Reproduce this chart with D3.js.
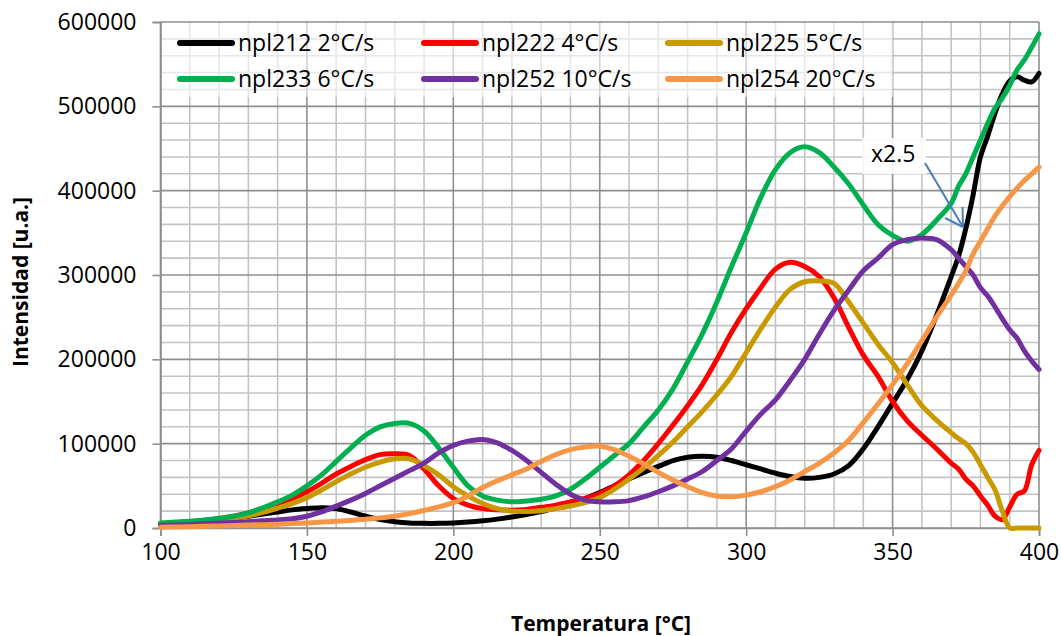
<!DOCTYPE html>
<html><head><meta charset="utf-8">
<script src="https://cdn.jsdelivr.net/npm/d3@7"></script>
<style>
html,body{margin:0;padding:0;background:#fff;}
svg{display:block;font-family:"Open Sans",sans-serif;}
</style></head>
<body><svg id="c" width="1061" height="636"></svg>
<script>
const temps = [100,105,110,115,120,125,130,135,140,145,150,155,160,165,170,175,180,185,190,195,200,205,210,215,220,225,230,235,240,245,250,255,260,265,270,275,280,285,290,295,300,305,310,315,320,325,330,335,340,345,350,355,360,365,370,372.5,375,377.5,380,382.5,385,387.5,390,392.5,395,397.5,400];

const npl212 = [5000,6000,7000,8500,10000,12000,14000,16500,19000,21500,23000,24000,23000,19000,14000,10000,7500,6000,5500,5500,6000,7000,8500,10500,13000,16000,19500,24000,29000,35000,42000,50000,58000,66000,73000,80000,84000,85000,84000,80000,75000,70000,65000,61000,59000,60000,64000,74000,94000,120000,148000,176000,210000,252000,298000,322000,355000,395000,440000,465000,492000,515000,530000,535000,531000,529000,539000];
const npl222 = [5000,6000,7500,9000,11000,14000,18000,23000,29000,35000,43000,53000,64000,73000,81000,87000,88000,86000,70000,50000,35000,27000,23000,21500,21000,22000,24500,27000,31000,35000,41000,50000,63000,80000,100000,122000,145000,170000,200000,232000,260000,285000,307000,315000,310000,298000,273000,238000,205000,180000,150000,127000,110000,94000,77000,70000,58000,50000,38000,27000,14000,10000,25000,40000,44000,75000,92000];
const npl225 = [4000,5000,6000,7500,9000,11500,14500,18500,23500,29000,36000,45000,55000,64000,72000,78000,82000,82000,74000,63000,49000,38000,29000,23000,20000,19500,20500,23000,26000,30000,36000,46000,58000,71000,86000,102000,120000,138000,158000,180000,208000,236000,262000,283000,292000,293000,290000,268000,243000,218000,196000,170000,145000,128000,113000,106000,100000,90000,75000,60000,45000,20000,0,0,0,0,0];
const npl233 = [6000,7000,8000,9500,11500,14000,18000,24000,31000,39000,50000,63000,79000,95000,110000,120000,124000,124000,115000,95000,72000,50000,38000,33000,31000,32000,34000,38000,46000,58000,72000,86000,100000,120000,140000,165000,197000,230000,268000,310000,350000,392000,425000,445000,452000,445000,428000,408000,383000,360000,347000,340000,348000,365000,385000,405000,420000,440000,460000,480000,498000,510000,525000,543000,555000,570000,586000];
const npl252 = [3000,3500,4000,5000,6000,6500,7500,8500,9500,11000,14000,19000,26000,33000,41000,50000,59000,68000,77000,89000,98000,103000,105000,101000,92000,80000,66000,52000,40000,33000,31000,31000,32500,37000,43000,50000,58000,67000,80000,94000,115000,135000,152000,175000,200000,230000,258000,282000,305000,320000,336000,342000,344000,342000,330000,320000,310000,300000,285000,275000,262000,248000,235000,225000,210000,198000,188000];
const npl254 = [1000,1200,1500,2000,2500,3000,3500,4000,4500,5200,6000,7000,8000,9000,10500,12000,14000,17000,21000,25000,30000,38000,48000,56000,63000,70000,79000,87000,93000,96000,97000,93000,85000,76000,66000,57000,49000,42000,38000,37000,39000,43000,49000,57000,67000,77000,89000,104000,125000,147000,170000,195000,222000,250000,276000,290000,305000,325000,340000,355000,370000,382000,393000,403000,412000,420000,428000];

const seriesNames = ["npl212 2°C/s","npl222 4°C/s","npl225 5°C/s","npl233 6°C/s","npl252 10°C/s","npl254 20°C/s"];
const seriesColors = ["#000000","#ff0000","#c99a00","#00b050","#7030a0","#f79646"];
const seriesValues = [npl212,npl222,npl225,npl233,npl252,npl254];
const xTicks = [100,150,200,250,300,350,400];
const yTicks = [0,100000,200000,300000,400000,500000,600000];

const svg = d3.select("#c");
const x = d3.scaleLinear().domain([100,400]).range([160.5,1039]);
const y = d3.scaleLinear().domain([0,600000]).range([528,22]);

// minor grid
const g = svg.append("g");
g.selectAll("line.mx").data(d3.range(110,400,10).filter(v=>v%50!==0)).join("line")
 .attr("x1",d=>x(d)).attr("x2",d=>x(d)).attr("y1",y(600000)).attr("y2",y(0))
 .attr("stroke","#c3c3c3").attr("stroke-width",1.6);
g.selectAll("line.my").data(d3.range(20000,600000,20000).filter(v=>v%100000!==0)).join("line")
 .attr("x1",x(100)).attr("x2",x(400)).attr("y1",d=>y(d)).attr("y2",d=>y(d))
 .attr("stroke","#c3c3c3").attr("stroke-width",1.6);
// major grid
g.selectAll("line.Mx").data(xTicks).join("line")
 .attr("x1",d=>x(d)).attr("x2",d=>x(d)).attr("y1",y(600000)).attr("y2",y(0))
 .attr("stroke","#8e8e8e").attr("stroke-width",1.6);
g.selectAll("line.My").data(yTicks).join("line")
 .attr("x1",x(100)).attr("x2",x(400)).attr("y1",d=>y(d)).attr("y2",d=>y(d))
 .attr("stroke","#8e8e8e").attr("stroke-width",1.6);

// axes
const xAxis = d3.axisBottom(x).tickValues(xTicks).tickSize(8).tickPadding(8).tickFormat(d3.format("d"));
const yAxis = d3.axisLeft(y).tickValues(yTicks).tickSize(8).tickPadding(16).tickFormat(d3.format("d"));
const gx = svg.append("g").attr("transform",`translate(0,${y(0)})`).call(xAxis);
const gy = svg.append("g").attr("transform",`translate(${x(100)},0)`).call(yAxis);
[gx,gy].forEach(a=>{
  a.select(".domain").attr("stroke","#8e8e8e").attr("stroke-width",1.6);
  a.selectAll(".tick line").attr("stroke","#8e8e8e").attr("stroke-width",1.6);
  a.selectAll(".tick text").attr("font-family","'Open Sans',sans-serif").attr("font-size",23).attr("fill","#000");
});

// legend background
svg.append("rect").attr("x",162).attr("y",23).attr("width",731).attr("height",74)
 .attr("fill","#fff").attr("opacity",0.6);

// lines
const line = d3.line().x((d,i)=>x(temps[i])).y(d=>y(d)).curve(d3.curveCatmullRom.alpha(0.5));
seriesValues.forEach((vals,k)=>{
  svg.append("path").datum(vals).attr("d",line).attr("fill","none")
   .attr("stroke",seriesColors[k]).attr("stroke-width",5).attr("stroke-linejoin","round").attr("stroke-linecap","round");
});

// legend
const legX = [180,424,668], legY = [43,79];
seriesNames.forEach((n,k)=>{
  const cx = legX[k%3], cy = legY[Math.floor(k/3)];
  svg.append("line").attr("x1",cx).attr("x2",cx+52).attr("y1",cy).attr("y2",cy)
   .attr("stroke",seriesColors[k]).attr("stroke-width",6).attr("stroke-linecap","round");
  svg.append("text").attr("x",cx+58).attr("y",cy+8).attr("font-size",23).attr("fill","#000").text(n);
});

// annotation
svg.append("rect").attr("x",862).attr("y",138).attr("width",64).attr("height",36).attr("fill","#fff").attr("opacity",0.85);
svg.append("text").attr("x",871).attr("y",162).attr("font-size",23).attr("fill","#000").text("x2.5");
const ac = "#4a7ebb";
svg.append("line").attr("x1",925).attr("y1",163).attr("x2",963).attr("y2",227).attr("stroke",ac).attr("stroke-width",2);
svg.append("line").attr("x1",963).attr("y1",227).attr("x2",945).attr("y2",218).attr("stroke",ac).attr("stroke-width",2);
svg.append("line").attr("x1",963).attr("y1",227).attr("x2",962.5).attr("y2",207).attr("stroke",ac).attr("stroke-width",2);

// axis titles
svg.append("text").attr("x",601).attr("y",631).attr("text-anchor","middle").attr("font-weight","bold").attr("font-size",21).attr("fill","#000").text("Temperatura [°C]");
svg.append("text").attr("transform","translate(28,282) rotate(-90)").attr("text-anchor","middle").attr("font-weight","bold").attr("font-size",21).attr("fill","#000").text("Intensidad [u.a.]");
</script></body></html>
